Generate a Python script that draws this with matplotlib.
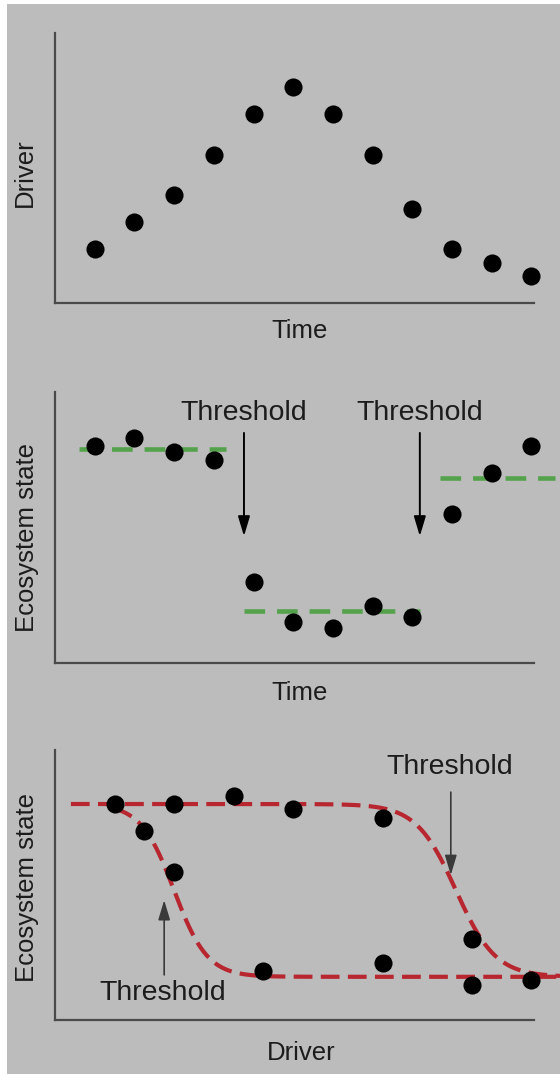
import matplotlib
matplotlib.use('Agg')
import matplotlib.pyplot as plt
import numpy as np
from matplotlib.patches import Rectangle

plt.rcParams['font.family'] = ['Liberation Sans', 'DejaVu Sans']

# top panel: driver over time
time = np.arange(1, 13)
driver = [2.0, 3.0, 4.0, 5.5, 7.0, 8.0, 7.0, 5.5, 3.5, 2.0, 1.5, 1.0]

# middle panel: ecosystem state over time, with three regimes
state = [8.0, 8.3, 7.8, 7.5, 3.0, 1.5, 1.3, 2.1, 1.7, 5.5, 7.0, 8.0]
regimes = [(0, 4), (4, 9), (9, 12)]
regime_spans = [(0.6, 4.3), (4.75, 9.2), (9.7, 12.6)]
time_thresholds = [4.76, 9.19]

# bottom panel: ecosystem state against driver (hysteresis)
drv = [1.5, 2.25, 3.0, 3.0, 4.5, 5.25, 6.0, 8.25, 8.25, 10.5, 10.5, 12.0]
drv_state = [8.0, 7.0, 8.0, 5.5, 8.3, 1.8, 7.8, 7.5, 2.1, 3.0, 1.3, 1.5]
high_state, low_state = 8.0, 1.6
fwd_threshold, fwd_width, fwd_start = 10.1, 0.5, 0.4
back_threshold, back_width, back_start = 3.0, 0.42, 1.5

W, H = 560, 1074
BG = '#bcbcbc'
SPINE = '#4a4a4a'
TXT = '#1c1c1c'
xmax = 505 / 39.7

fig = plt.figure(figsize=(W / 100, H / 100), dpi=100)
fig.patch.set_facecolor('white')
fig.add_artist(Rectangle((7 / W, 0), 1 - 7 / W, 1 - 4 / H, transform=fig.transFigure,
                         facecolor=BG, edgecolor='none', zorder=-10))


def panel(top, bottom):
    ax = fig.add_axes([55 / W, 1 - bottom / H, 505 / W, (bottom - top) / H])
    ax.set_facecolor('none')
    ax.set_xlim(0, xmax)
    ax.set_ylim(0, 10)
    ax.set_xticks([])
    ax.set_yticks([])
    for s in ['top', 'right']:
        ax.spines[s].set_visible(False)
    for s in ['left', 'bottom']:
        ax.spines[s].set_color(SPINE)
        ax.spines[s].set_linewidth(1.6)
    ax.spines['bottom'].set_bounds(0, 479 / 39.7)
    ax.spines['left'].set_bounds(0, 10)
    return ax


def ftext(x, y, s, **kw):
    fig.text(x / W, 1 - y / H, s, ha='center', va='center', color=TXT, fontsize=18.5, **kw)


def arrow(ax, x, y0, y1, color, lw):
    ax.annotate('', xy=(x, y1), xytext=(x, y0),
                arrowprops=dict(arrowstyle='-|>,head_length=0.6,head_width=0.18',
                                mutation_scale=20, color=color, lw=lw, shrinkA=0, shrinkB=0))


dot = dict(color='black', s=170, zorder=5, linewidths=0)

# --- driver vs time
ax1 = panel(33, 303)
ax1.scatter(time, driver, **dot)
ftext(300, 331, 'Time')
ftext(25, 173, 'Driver', rotation=90)

# --- ecosystem state vs time
ax2 = panel(392, 663)
ax2.scatter(time, state, **dot)
for (i0, i1), (x0, x1) in zip(regimes, regime_spans):
    m = np.mean(state[i0:i1])
    ax2.plot([x0, x1], [m, m], color='#55a24c', lw=3.3, dashes=(4.5, 2.6), zorder=3)
for tx in time_thresholds:
    ax2.text(tx, 9.22, 'Threshold', ha='center', va='center', fontsize=20.5, color=TXT)
    arrow(ax2, tx, 8.49, 4.68, 'black', 1.4)
ftext(300, 693, 'Time')
ftext(27, 537, 'Ecosystem state', rotation=90)

# --- ecosystem state vs driver
ax3 = panel(750, 1020)
ax3.scatter(drv, drv_state, **dot)
xf = np.linspace(fwd_start, xmax, 300)
yf = low_state + (high_state - low_state) / (1 + np.exp((xf - fwd_threshold) / fwd_width))
xb = np.linspace(back_start, xmax, 300)
yb = low_state + (high_state - low_state) / (1 + np.exp((xb - back_threshold) / back_width))
red = '#b8262f'
ax3.plot(xf, yf, color=red, lw=3, dashes=(4.5, 2.0), zorder=3, clip_on=False)
ax3.plot(xb, yb, color=red, lw=3, dashes=(4.5, 2.0), zorder=3, clip_on=False)
ax3.text(9.95, 9.37, 'Threshold', ha='center', va='center', fontsize=20.5, color=TXT)
arrow(ax3, 9.97, 8.44, 5.37, '#3a3a3a', 1.2)
ax3.text(2.72, 1.0, 'Threshold', ha='center', va='center', fontsize=20.5, color=TXT)
arrow(ax3, 2.75, 1.67, 4.44, '#3a3a3a', 1.2)
ftext(301, 1053, 'Driver')
ftext(27, 888, 'Ecosystem state', rotation=90)

fig.savefig('out.png', dpi=100, facecolor=fig.get_facecolor())
